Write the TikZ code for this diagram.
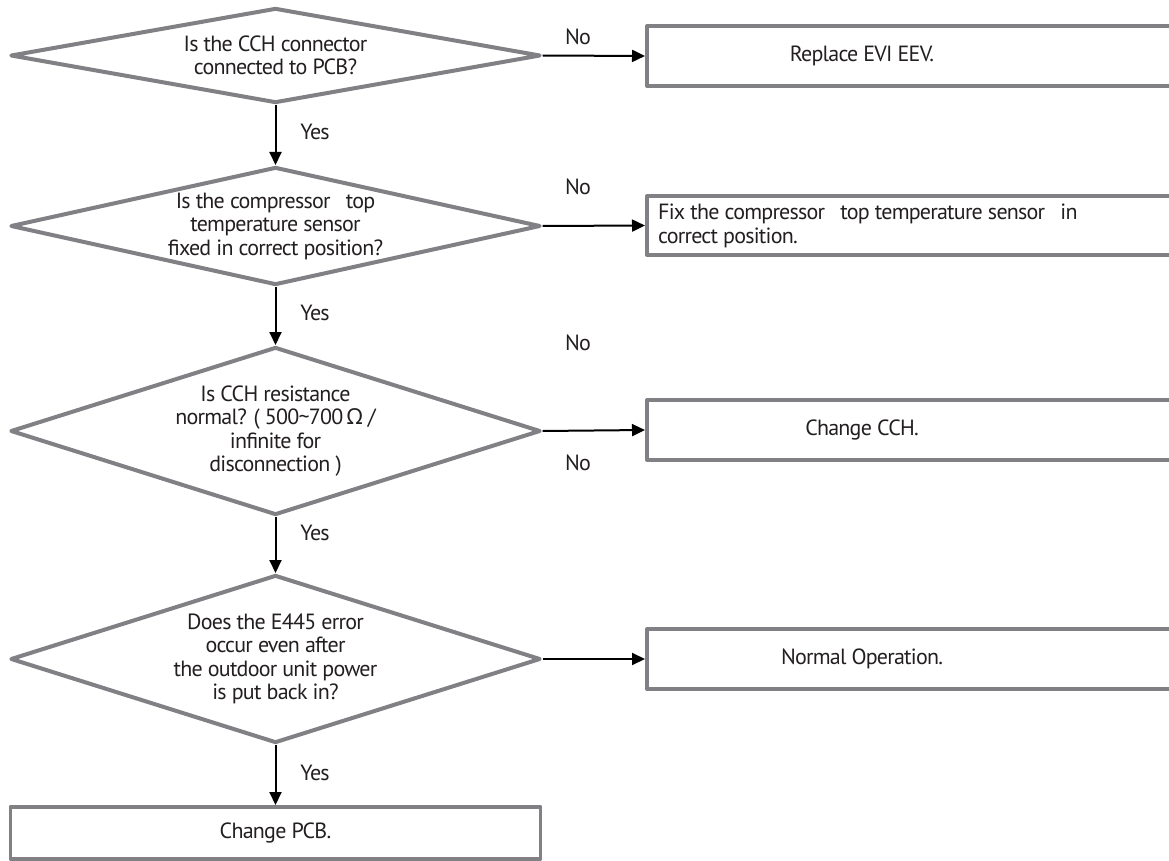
\documentclass[tikz,border=0pt]{standalone}
\usepackage{fontspec}
\setmainfont{PT Sans}[LetterSpace=-3.5]
\newfontfamily\symfont{Noto Sans}
\usetikzlibrary{shapes.geometric,arrows.meta}
\definecolor{flowgray}{HTML}{808085}
\definecolor{ink}{HTML}{231F20}
\begin{document}
\begin{tikzpicture}[x=1pt,y=-1pt,
  txt/.style={font=\fontsize{22}{23.5}\selectfont, text=ink},
  decision/.style={diamond, draw=flowgray, line width=4pt, line join=round,
    inner sep=0pt, align=center, txt},
  stepbox/.style={rectangle, draw=flowgray, line width=3.5pt, line join=round,
    inner sep=0pt, minimum width=535pt, minimum height=60pt, anchor=west},
  boxtext/.style={txt, inner sep=0pt, align=center},
  lbl/.style={txt, inner sep=0pt},
  flow/.style={-{Triangle[length=13pt,width=12pt]}, line width=2pt, black},
]
\useasboundingbox (0,0) rectangle (1169,861);

% decisions
\node[decision, minimum width=530pt, minimum height=95pt, aspect=5.6] (d1) at (275.5,55.5)
  {Is the CCH connector\\connected to PCB?};
\node[decision, minimum width=530pt, minimum height=118pt, aspect=4.5] (d2) at (275.5,226)
  {Is the compressor\ \ \ top\\temperature sensor\\fixed in correct position?};
\node[decision, minimum width=530pt, minimum height=168pt, aspect=3.15] (d3) at (275.5,431)
  {Is CCH resistance\\normal? ( 500\textasciitilde 700\,{\symfont Ω} /\\infinite for\\disconnection )};
\node[decision, minimum width=530pt, minimum height=168pt, aspect=3.15] (d4) at (275.5,659)
  {Does the E445 error\\occur even after\\the outdoor unit power\\is put back in?};

% actions
\node[stepbox] (b1) at (645,56) {};
\node[boxtext] (t1) at (862,56) {Replace EVI EEV.};
\node[stepbox, minimum height=59pt] (b2) at (645,225.5) {};
\node[txt, inner sep=0pt, align=left, anchor=west] (t2) at (658,226)
  {Fix the compressor\ \ \ top temperature sensor\ \ \ in\\correct position.};
\node[stepbox] (b3) at (645,430) {};
\node[boxtext] (t3) at (862,430) {Change CCH.};
\node[stepbox] (b4) at (645,659) {};
\node[boxtext] (t4) at (862,659) {Normal Operation.};
\node[rectangle, draw=flowgray, line width=3.5pt, line join=round, inner sep=0pt,
  minimum width=530pt, minimum height=52pt, anchor=north, txt] (b5) at (275.5,805) {Change PCB.};

% connectors
\draw[flow] (d1.south) -- (d2.north);
\draw[flow] (d2.south) -- (d3.north);
\draw[flow] (d3.south) -- (d4.north);
\draw[flow] (d4.south) -- (b5.north);
\draw[flow] (d1.east) -- (b1.west);
\draw[flow] (d2.east) -- (b2.west);
\draw[flow] (d3.east) -- (b3.west);
\draw[flow] (d4.east) -- (b4.west);

% branch labels
\node[lbl] (y1) at (315,132) {Yes};
\node[lbl] (y2) at (315,313) {Yes};
\node[lbl] (y3) at (315,533) {Yes};
\node[lbl] (y4) at (315,773) {Yes};
\node[lbl] (n1) at (578,37) {No};
\node[lbl] (n2) at (578,187) {No};
\node[lbl] (n3) at (578,343) {No};
\node[lbl] (n4) at (578,463) {No};
\end{tikzpicture}
\end{document}
